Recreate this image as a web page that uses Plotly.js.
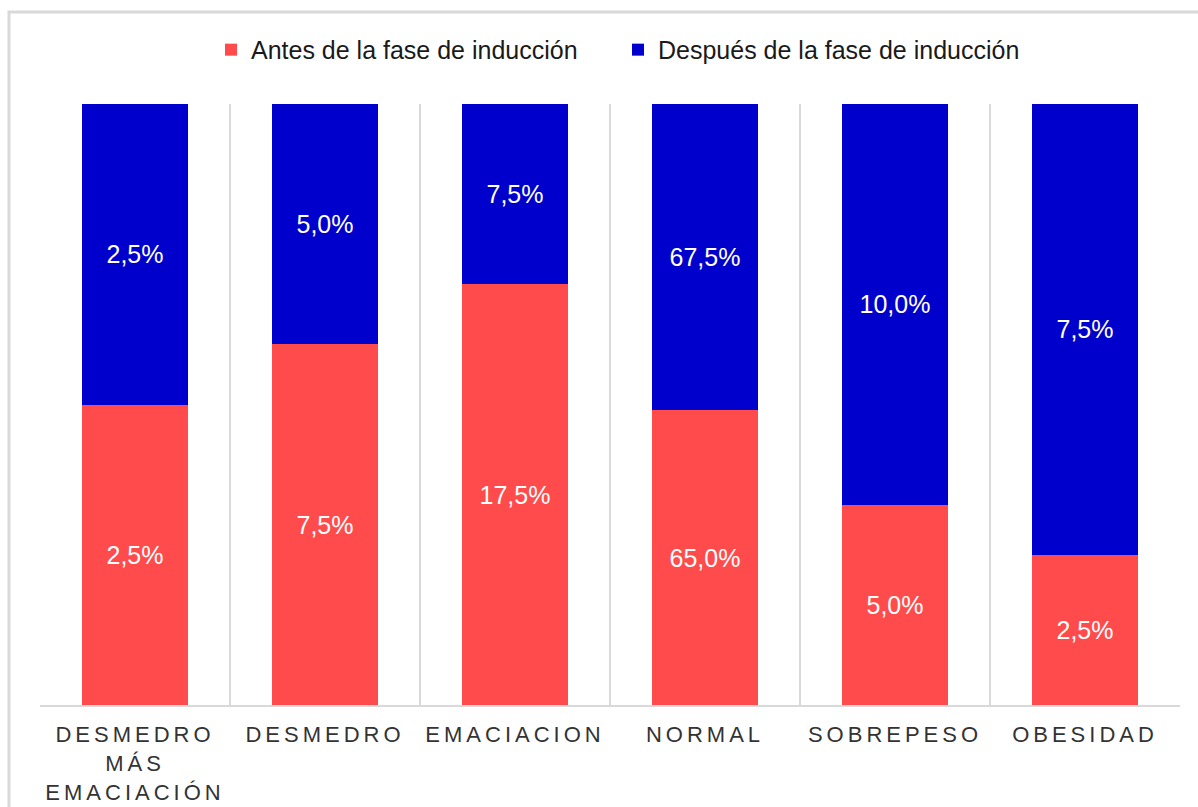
<!DOCTYPE html>
<html>
<head>
<meta charset="utf-8">
<script src="https://cdn.plot.ly/plotly-3.0.1.min.js"></script>
<style>
  html, body { margin: 0; padding: 0; background: #fff; }
  #chart { width: 1198px; height: 807px; }
  .xtick text { letter-spacing: 4px; }
</style>
</head>
<body>
<div id="chart"></div>
<script>
var categories = ['DESMEDRO<br>MÁS<br>EMACIACIÓN', 'DESMEDRO', 'EMACIACION', 'NORMAL', 'SOBREPESO', 'OBESIDAD'];
var antesName = 'Antes de la fase de inducción';
var despuesName = 'Después de la fase de inducción';
var antesValues = [2.5, 7.5, 17.5, 65.0, 5.0, 2.5];
var despuesValues = [2.5, 5.0, 7.5, 67.5, 10.0, 7.5];

function fmt(v) { return v.toFixed(1).replace('.', ',') + '%'; }

var labelFont = {family: 'Liberation Sans, Arial, sans-serif', size: 25, color: '#ffffff'};

var traces = [
  {
    type: 'bar', name: antesName, x: categories, y: antesValues,
    marker: {color: '#FF4B4B'},
    text: antesValues.map(fmt), texttemplate: '%{text}',
    textposition: 'inside', insidetextanchor: 'middle', textangle: 0,
    constraintext: 'none', insidetextfont: labelFont, hoverinfo: 'skip'
  },
  {
    type: 'bar', name: despuesName, x: categories, y: despuesValues,
    marker: {color: '#0000CC'},
    text: despuesValues.map(fmt), texttemplate: '%{text}',
    textposition: 'inside', insidetextanchor: 'middle', textangle: 0,
    constraintext: 'none', insidetextfont: labelFont, hoverinfo: 'skip'
  }
];

var layout = {
  width: 1198, height: 807,
  margin: {l: 40, r: 18, t: 104, b: 102},
  paper_bgcolor: '#ffffff', plot_bgcolor: '#ffffff',
  barmode: 'stack', barnorm: 'percent', bargap: 0.44,
  font: {family: 'Liberation Sans, Arial, sans-serif', color: '#1a1a1a'},
  showlegend: true,
  legend: {
    orientation: 'h', x: 0.507, xanchor: 'center', y: 1.09, yanchor: 'middle',
    font: {size: 25, color: '#1a1a1a'}, traceorder: 'normal', itemwidth: 30,
    bgcolor: 'rgba(0,0,0,0)', entrywidth: 362
  },
  xaxis: {
    type: 'category', tickson: 'boundaries', showgrid: true,
    gridcolor: '#d9d9d9', gridwidth: 2,
    showline: true, linecolor: '#d9d9d9', linewidth: 2,
    ticks: '', ticklabelstandoff: 9,
    tickfont: {size: 22, color: '#333333'}, fixedrange: true
  },
  yaxis: {
    range: [0, 100], showgrid: false, zeroline: false, showticklabels: false,
    showline: false, ticks: '', fixedrange: true
  },
  shapes: [{
    type: 'rect', xref: 'paper', yref: 'paper',
    x0: -0.0272, x1: 1.03, y0: -0.2, y1: 1.153,
    line: {color: '#d9d9d9', width: 3}, fillcolor: 'rgba(0,0,0,0)', layer: 'below'
  }]
};

Plotly.newPlot('chart', traces, layout, {displayModeBar: false, staticPlot: true});
</script>
</body>
</html>
